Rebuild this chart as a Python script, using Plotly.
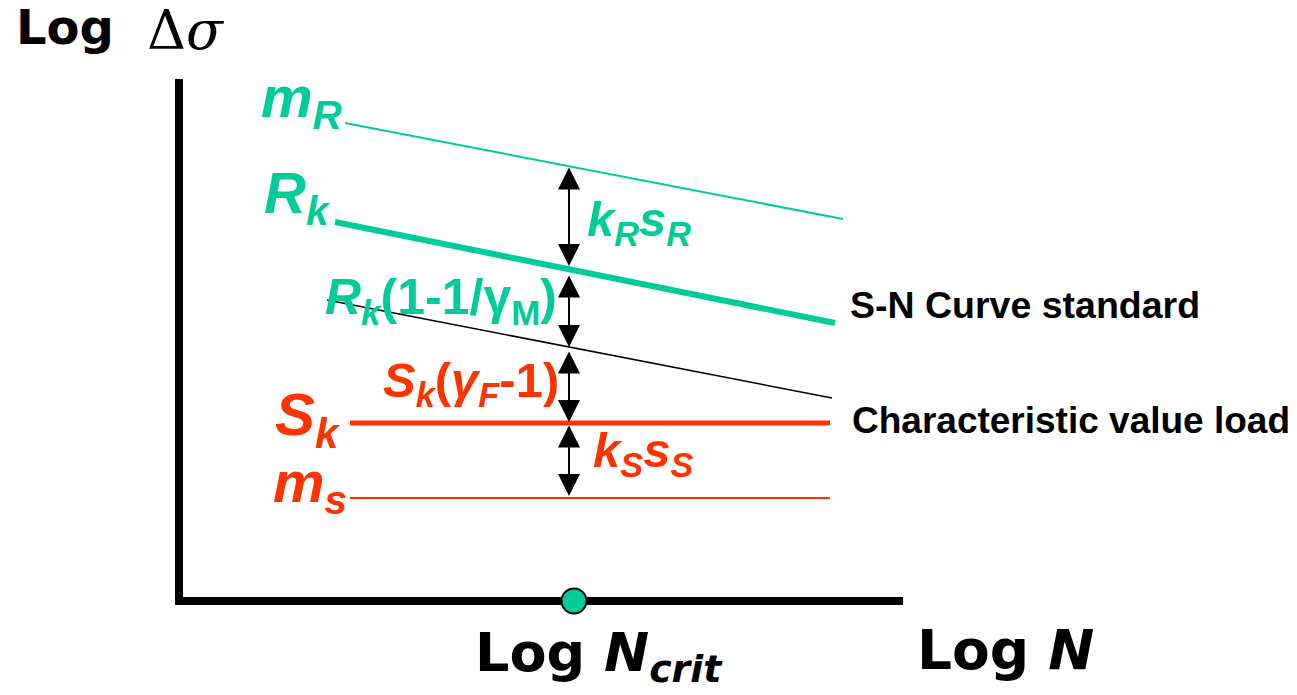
import plotly.graph_objects as go

# ---------------- Diagram data (diagram units: x = log N, y = log Δσ, origin at the axis corner)
N_CRIT = 395          # position of the critical number of cycles on the log N axis
ARROW_X = 390         # where the safety-margin arrows are drawn

axis_x = [0, 0, 724]
axis_y = [522, 0, 0]

mR_x = [166, 664]
mR_y = [478, 382]          # mean resistance S-N line
Rk_x = [156, 656]
Rk_y = [379, 278]          # characteristic resistance (S-N curve standard)
design_x = [148, 653]
design_y = [301, 203]      # design resistance Rk/γM
Sk_x = [171, 651]
Sk_y = [178, 178]          # characteristic load
ms_x = [171, 651]
ms_y = [103, 103]          # mean load

arrow_top = [435, 327, 251, 177]
arrow_bottom = [335, 254, 179, 105]

TEAL = "#00CC99"
RED = "#FF3300"
W, H = 1297, 695
X0, Y0 = 179, 601   # screen pixel of the diagram origin

fig = go.Figure()


def line(x, y, color, width):
    fig.add_trace(go.Scatter(x=x, y=y, mode="lines",
                             line=dict(color=color, width=width),
                             hoverinfo="skip", showlegend=False))


line(mR_x, mR_y, TEAL, 2)
line(Rk_x, Rk_y, TEAL, 6)
line(design_x, design_y, "black", 1.5)
line(Sk_x, Sk_y, RED, 5)
line(ms_x, ms_y, RED, 2)
line(axis_x, axis_y, "black", 8)

fig.add_trace(go.Scatter(x=[N_CRIT], y=[0], mode="markers",
                         marker=dict(size=25, color=TEAL, line=dict(color="black", width=2)),
                         hoverinfo="skip", showlegend=False))

for y1, y2 in zip(arrow_top, arrow_bottom):
    fig.add_annotation(x=ARROW_X, y=y2, ax=ARROW_X, ay=y1,
                       xref="x", yref="y", axref="x", ayref="y",
                       text="", showarrow=True,
                       arrowhead=2, startarrowhead=2, arrowside="end+start",
                       arrowsize=2.2, startarrowsize=2.2, arrowwidth=2,
                       arrowcolor="black", standoff=0, startstandoff=0)


def label(text, left_px, base_px, size, color, desc=0.15, family="Liberation Sans",
          anchor="bottom", asc=0.9):
    if anchor == "bottom":
        ypx = base_px + desc * size
    else:
        ypx = base_px - asc * size
    fig.add_annotation(x=left_px - X0, y=Y0 - ypx,
                       xref="x", yref="y", text=text, showarrow=False,
                       xanchor="left", yanchor=anchor,
                       font=dict(family=family, size=size, color=color),
                       borderpad=0, borderwidth=0)


SUB = 0.29
label("<b><i>m<sub>R</sub></i></b>", 261, 121, 58, TEAL, SUB)
label("<b><i>R<sub>k</sub></i></b>", 264, 217, 58, TEAL, SUB)
label("<b><i>R<sub>k</sub></i>(1-1/γ<sub>M</sub>)</b>", 325, 317, 50, TEAL, SUB)
label("<b><i>k<sub>R</sub>s<sub>R</sub></i></b>", 587, 239, 49, TEAL, SUB)
label("<b><i>S<sub>k</sub></i>(<i>γ<sub>F</sub></i>-1)</b>", 383, 400, 49, RED, SUB)
label("<b><i>S<sub>k</sub></i></b>", 275, 440, 60, RED, SUB)
label("<b><i>m<sub>s</sub></i></b>", 273, 506, 58, RED, SUB)
label("<b><i>k<sub>S</sub>s<sub>S</sub></i></b>", 593, 470, 49, RED, SUB)
label("<b>S-N Curve standard</b>", 850, 320, 37.5, "black")
label("<b>Characteristic value load</b>", 852, 435, 37, "black")
label("<b>Log</b>", 16, 48, 48, "black", family="DejaVu Sans")
label("Δ<i>σ</i>", 147, 54, 54, "black", family="DejaVu Serif")
label("<b>Log <i>N<sub>crit</sub></i></b>", 475, 672, 54, "black",
      family="DejaVu Sans", anchor="top", asc=0.95)
label("<b>Log <i>N</i></b>", 917, 673, 55, "black", 0.17, family="DejaVu Sans")

fig.update_layout(
    width=W, height=H,
    margin=dict(l=0, r=0, t=0, b=0),
    paper_bgcolor="white", plot_bgcolor="white",
    xaxis=dict(range=[-X0, W - X0], visible=False, fixedrange=True),
    yaxis=dict(range=[Y0 - H, Y0], visible=False, fixedrange=True),
    showlegend=False,
)

fig.write_html("out.html", config={"displayModeBar": False},
               post_script="document.body.style.margin='0';document.body.style.overflow='hidden';")
